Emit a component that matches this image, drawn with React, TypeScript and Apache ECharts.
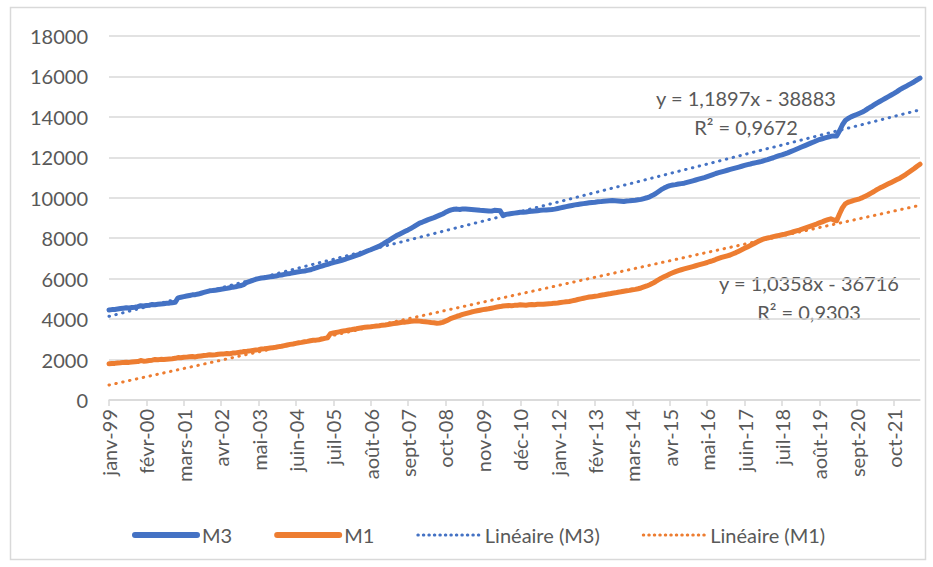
import React, { useEffect, useRef } from "react";
import * as echarts from "echarts";

const MONTHS_FR = ["janv", "févr", "mars", "avr", "mai", "juin", "juil", "août", "sept", "oct", "nov", "déc"];
const START_YEAR = 1999;

// M3, monthly, janv-99 .. juil-22
const M3 = [
  4450, 4470, 4480, 4500, 4520, 4540, 4560, 4550, 4570, 4590, 4620, 4660,
  4650, 4670, 4690, 4720, 4710, 4730, 4750, 4760, 4780, 4790, 4810, 4830,
  5050, 5080, 5110, 5140, 5170, 5200, 5210, 5240, 5280, 5320, 5360, 5400,
  5410, 5430, 5450, 5480, 5500, 5520, 5550, 5580, 5600, 5630, 5660, 5720,
  5820, 5870, 5920, 5970, 6000, 6030, 6050, 6070, 6090, 6110, 6130, 6170,
  6180, 6210, 6240, 6260, 6290, 6320, 6340, 6360, 6380, 6410, 6440, 6490,
  6530, 6580, 6620, 6670, 6710, 6760, 6800, 6830, 6870, 6910, 6950, 7010,
  7050, 7100, 7150, 7200, 7260, 7320, 7380, 7430, 7490, 7550, 7610, 7690,
  7780, 7860, 7950, 8040, 8130, 8200, 8270, 8340, 8410, 8490, 8570, 8660,
  8750, 8800, 8860, 8920, 8970, 9020, 9080, 9140, 9200, 9280, 9350, 9400,
  9430, 9440, 9420, 9450, 9440, 9430, 9420, 9410, 9400, 9380, 9370, 9360,
  9350, 9340, 9380, 9370, 9360, 9120, 9180, 9200, 9220, 9240, 9260, 9280,
  9290, 9300, 9320, 9330, 9350, 9360, 9380, 9390, 9400, 9410, 9420, 9440,
  9470, 9500, 9530, 9560, 9590, 9620, 9650, 9670, 9690, 9710, 9730, 9750,
  9770, 9780, 9800, 9810, 9830, 9840, 9850, 9860, 9850, 9840, 9830, 9820,
  9840, 9850, 9870, 9880, 9900, 9920, 9960, 10000, 10050, 10120, 10200, 10300,
  10400, 10480, 10550, 10600, 10630, 10650, 10680, 10700, 10720, 10760, 10800, 10840,
  10880, 10920, 10960, 11000, 11050, 11100, 11150, 11200, 11240, 11280, 11320, 11360,
  11400, 11440, 11480, 11520, 11560, 11600, 11640, 11670, 11710, 11740, 11770, 11800,
  11850, 11890, 11940, 11980, 12030, 12080, 12120, 12170, 12220, 12280, 12340, 12400,
  12460, 12520, 12580, 12640, 12700, 12760, 12820, 12880, 12920, 12960, 13000, 13040,
  13060, 13050, 13300, 13600, 13820, 13920, 14000, 14060, 14120, 14180, 14240, 14320,
  14420, 14500, 14590, 14680, 14760, 14840, 14920, 15000, 15080, 15160, 15250, 15350,
  15430, 15500, 15580, 15660, 15740, 15830, 15920,
];

// M1, monthly, janv-99 .. juil-22
const M1 = [
  1790, 1800, 1810, 1830, 1840, 1860, 1870, 1860, 1880, 1890, 1900, 1950,
  1920, 1930, 1950, 1970, 2000, 1990, 2010, 2000, 2020, 2030, 2040, 2060,
  2100, 2090, 2110, 2120, 2140, 2150, 2130, 2160, 2180, 2200, 2210, 2240,
  2230, 2240, 2260, 2270, 2280, 2300, 2290, 2320, 2330, 2350, 2370, 2400,
  2410, 2430, 2450, 2470, 2490, 2520, 2530, 2550, 2570, 2590, 2610, 2640,
  2660, 2690, 2720, 2750, 2770, 2800, 2830, 2850, 2880, 2900, 2930, 2950,
  2960, 2980, 3010, 3050, 3080, 3280, 3310, 3340, 3370, 3400, 3420, 3450,
  3470, 3500, 3520, 3550, 3580, 3600, 3610, 3620, 3640, 3660, 3670, 3700,
  3710, 3730, 3760, 3780, 3800, 3820, 3840, 3850, 3870, 3890, 3910, 3920,
  3900, 3880, 3870, 3850, 3830, 3820, 3800, 3810, 3840, 3900, 3960, 4040,
  4090, 4140, 4180, 4230, 4270, 4310, 4350, 4380, 4410, 4440, 4470, 4490,
  4510, 4540, 4570, 4600, 4620, 4650, 4660, 4670, 4660, 4680, 4690, 4710,
  4700, 4690, 4710, 4720, 4710, 4730, 4740, 4730, 4750, 4760, 4770, 4790,
  4800, 4820, 4840, 4860, 4870, 4900, 4930, 4970, 5000, 5030, 5060, 5090,
  5110, 5130, 5150, 5180, 5200, 5230, 5250, 5280, 5300, 5330, 5350, 5380,
  5400, 5420, 5450, 5470, 5500, 5540, 5590, 5640, 5700, 5770, 5850, 5940,
  6020, 6090, 6160, 6230, 6290, 6350, 6400, 6440, 6480, 6520, 6560, 6600,
  6640, 6680, 6720, 6760, 6800, 6850, 6890, 6950, 7000, 7050, 7090, 7130,
  7170, 7230, 7290, 7360, 7430, 7500, 7570, 7640, 7710, 7790, 7860, 7930,
  7980, 8010, 8040, 8080, 8110, 8140, 8170, 8200, 8240, 8280, 8320, 8360,
  8400, 8450, 8500, 8550, 8600, 8650, 8700, 8760, 8810, 8870, 8920, 8960,
  8900, 8860, 9200, 9500, 9700, 9780, 9820, 9870, 9910, 9950, 10010, 10080,
  10150, 10230, 10310, 10400, 10480, 10550, 10620, 10690, 10760, 10830, 10900, 10970,
  11060, 11150, 11250, 11350, 11450, 11560, 11660,
];

// Trend-line equations shown on the chart (x = Excel date serial)
const M3_TREND = { slope: 1.1897, intercept: -38883, r2: "0,9672", label: "y = 1,1897x - 38883" };
const M1_TREND = { slope: 1.0358, intercept: -36716, r2: "0,9303", label: "y = 1,0358x - 36716" };

const Y_MIN = 0;
const Y_MAX = 18000;
const Y_STEP = 2000;

const BLUE = "#4472C4";
const ORANGE = "#ED7D31";
const TEXT = "#595959";
const GRID = "#D9D9D9";
const FONT = "Lato, 'Open Sans', sans-serif";

const categories = M3.map((_, i) => {
  const y = START_YEAR + Math.floor(i / 12);
  return `${MONTHS_FR[i % 12]}-${String(y % 100).padStart(2, "0")}`;
});

const excelSerial = (i: number) => {
  const y = START_YEAR + Math.floor(i / 12);
  const m = i % 12;
  return (Date.UTC(y, m, 1) - Date.UTC(1899, 11, 30)) / 86400000;
};

const trend = (t: { slope: number; intercept: number }) =>
  M3.map((_, i) => +(t.slope * excelSerial(i) + t.intercept).toFixed(1));

export default function App() {
  const ref = useRef<HTMLDivElement>(null);
  useEffect(() => {
    if (!ref.current) return;
    const chart = echarts.init(ref.current, undefined, { renderer: "svg" });
    const dotted = { type: [0.5, 6.5] as any, cap: "round" as const, width: 3 };
    const eqText = (x: number, y: number, text: string) => ({
      type: "text",
      x,
      y,
      style: { text, fontSize: 20, fill: TEXT, fontFamily: FONT, align: "center", verticalAlign: "middle" },
    });
    chart.setOption({
      animation: false,
      textStyle: { fontFamily: FONT },
      grid: { left: 109, right: 13, top: 36, bottom: 167, containLabel: false },
      legend: {
        left: 127,
        top: 520,
        itemWidth: 62,
        itemHeight: 18,
        itemGap: 42,
        itemStyle: { opacity: 0 },
        textStyle: { fontSize: 20, color: TEXT, fontFamily: FONT },
        data: [
          { name: "M3", lineStyle: { width: 6, cap: "round" } },
          { name: "M1", lineStyle: { width: 6, cap: "round" } },
          { name: "Linéaire (M3)", lineStyle: { width: 3, type: [0.5, 5], cap: "round" } },
          { name: "Linéaire (M1)", lineStyle: { width: 3, type: [0.5, 5], cap: "round" } },
        ],
      },
      xAxis: {
        type: "category",
        data: categories,
        boundaryGap: false,
        axisLine: { show: true, lineStyle: { color: GRID, width: 1.5 } },
        axisTick: { show: true, interval: 12, length: 6, lineStyle: { color: GRID, width: 1.5 } },
        axisLabel: {
          interval: 12,
          rotate: 90,
          margin: 9,
          fontSize: 20,
          color: TEXT,
          fontFamily: FONT,
        },
        splitLine: { show: false },
      },
      yAxis: {
        type: "value",
        min: Y_MIN,
        max: Y_MAX,
        interval: Y_STEP,
        axisLine: { show: false },
        axisTick: { show: false },
        axisLabel: {
          margin: 21,
          fontSize: 20,
          color: TEXT,
          fontFamily: FONT,
          formatter: (v: number) => String(v),
        },
        splitLine: { lineStyle: { color: GRID, width: 1.5 } },
      },
      series: [
        {
          name: "M3",
          type: "line",
          data: M3,
          symbol: "none",
          lineStyle: { color: BLUE, width: 5, cap: "round", join: "round" },
          itemStyle: { color: BLUE },
        },
        {
          name: "M1",
          type: "line",
          data: M1,
          symbol: "none",
          lineStyle: { color: ORANGE, width: 5, cap: "round", join: "round" },
          itemStyle: { color: ORANGE },
        },
        {
          name: "Linéaire (M3)",
          type: "line",
          data: trend(M3_TREND),
          symbol: "none",
          lineStyle: { ...dotted, color: BLUE },
          itemStyle: { color: BLUE },
          z: 3,
        },
        {
          name: "Linéaire (M1)",
          type: "line",
          data: trend(M1_TREND),
          symbol: "none",
          lineStyle: { ...dotted, color: ORANGE },
          itemStyle: { color: ORANGE },
          z: 3,
        },
      ],
      graphic: [
        {
          type: "rect",
          shape: { x: 10.5, y: 7.5, width: 915, height: 552 },
          style: { fill: "none", stroke: GRID, lineWidth: 1.5 },
          silent: true,
        },
        eqText(746, 98, M3_TREND.label),
        eqText(746, 127, "R² = " + M3_TREND.r2),
        eqText(809, 283, M1_TREND.label),
        eqText(809, 312, "R² = " + M1_TREND.r2),
      ],
    });
    return () => chart.dispose();
  }, []);
  return (
    <div
      ref={ref}
      style={{ position: "fixed", left: 0, top: 0, width: 933, height: 567, background: "#fff" }}
    />
  );
}
